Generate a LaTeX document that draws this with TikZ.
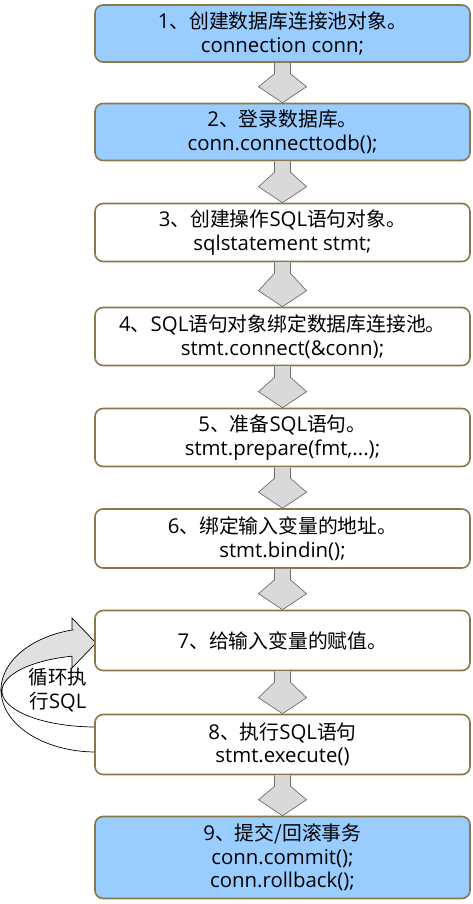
\documentclass[tikz,border=0pt]{standalone}
\usepackage{fontspec}
\setmainfont{Noto Sans CJK SC}
\newfontfamily\lat[Scale=1.03]{Open Sans}
\usetikzlibrary{calc}
\definecolor{boxline}{RGB}{137,120,75}
\definecolor{boxblue}{RGB}{153,204,255}
\definecolor{arrfill}{RGB}{217,217,217}
\definecolor{arrline}{RGB}{110,110,110}
\definecolor{loopgray}{RGB}{224,224,224}
\newcommand\blockarr[2]{%
  \draw[barrow] ($(#1.south)+(-8pt,0pt)$) -- ($(#1.south)+(-8pt,-11pt)$) --
    ($(#2.north)+(-24pt,16pt)$) -- (#2.north) -- ($(#2.north)+(24pt,16pt)$) --
    ($(#1.south)+(8pt,-11pt)$) -- ($(#1.south)+(8pt,0pt)$);}
\newcommand\lt[1]{{\lat #1}}
\begin{document}
\begin{tikzpicture}[x=1pt,y=-1pt,
  stepbox/.style={draw=boxline, line width=1.6pt, rounded corners=8pt, fill=white,
    minimum width=375pt, inner sep=0pt, align=center,
    font=\fontsize{19.8}{23.5}\selectfont},
  bluebox/.style={stepbox, fill=boxblue},
  barrow/.style={draw=arrline, line width=0.7pt, fill=arrfill, line join=miter},
  looppart/.style={draw=black, line width=0.7pt}]
\useasboundingbox (0,0) rectangle (473,904);
% loop arrow
\draw[looppart, fill=loopgray] (72,656) -- (72,668) -- (96,643) -- (72,618) -- (72,630)
  -- plot[domain=104.6:180, samples=40, variable=\t] ({96+95*cos(\t)},{690-62*sin(\t)})
  -- plot[domain=180:104.8, samples=40, variable=\t] ({96+94*cos(\t)},{691-36*sin(\t)})
  -- cycle;
\draw[looppart, fill=white]
  plot[domain=180:270, samples=40, variable=\t] ({96+95*cos(\t)},{690-62*sin(\t)})
  -- plot[domain=270:180, samples=40, variable=\t] ({96+94*cos(\t)},{691-36*sin(\t)})
  -- cycle;
\node[font=\fontsize{19.5}{24}\selectfont, align=center, inner sep=0pt] (lbl) at (58,690) {循环执\\行\lt{SQL}};
% boxes
\node[bluebox, minimum height=57pt] (b1) at (282.5,33.5) {\lt{1}、创建数据库连接池对象。\\\lt{connection conn;}};
\node[bluebox, minimum height=57pt] (b2) at (282.5,132) {\lt{2}、登录数据库。\\\lt{conn.connecttodb();}};
\node[stepbox, minimum height=58pt] (b3) at (282.5,232.5) {\lt{3}、创建操作\lt{SQL}语句对象。\\\lt{sqlstatement stmt;}};
\node[stepbox, minimum height=58pt] (b4) at (282.5,336.5) {\lt{4}、\lt{SQL}语句对象绑定数据库连接池。\\\lt{stmt.connect(\&conn);}};
\node[stepbox, minimum height=58pt] (b5) at (282.5,437.5) {\lt{5}、准备\lt{SQL}语句。\\\lt{stmt.prepare(fmt,...);}};
\node[stepbox, minimum height=59pt] (b6) at (282.5,538.5) {\lt{6}、绑定输入变量的地址。\\\lt{stmt.bindin();}};
\node[stepbox, minimum height=60pt] (b7) at (282.5,640.5) {\lt{7}、给输入变量的赋值。};
\node[stepbox, minimum height=60pt] (b8) at (282.5,744.5) {\lt{8}、执行\lt{SQL}语句\\\lt{stmt.execute()}};
\node[bluebox, minimum height=82pt] (b9) at (282.5,857.5) {\lt{9}、提交/回滚事务\\\lt{conn.commit();}\\\lt{conn.rollback();}};
% arrows
\blockarr{b1}{b2}
\blockarr{b2}{b3}
\blockarr{b3}{b4}
\blockarr{b4}{b5}
\blockarr{b5}{b6}
\blockarr{b6}{b7}
\blockarr{b7}{b8}
\blockarr{b8}{b9}
\end{tikzpicture}
\end{document}
